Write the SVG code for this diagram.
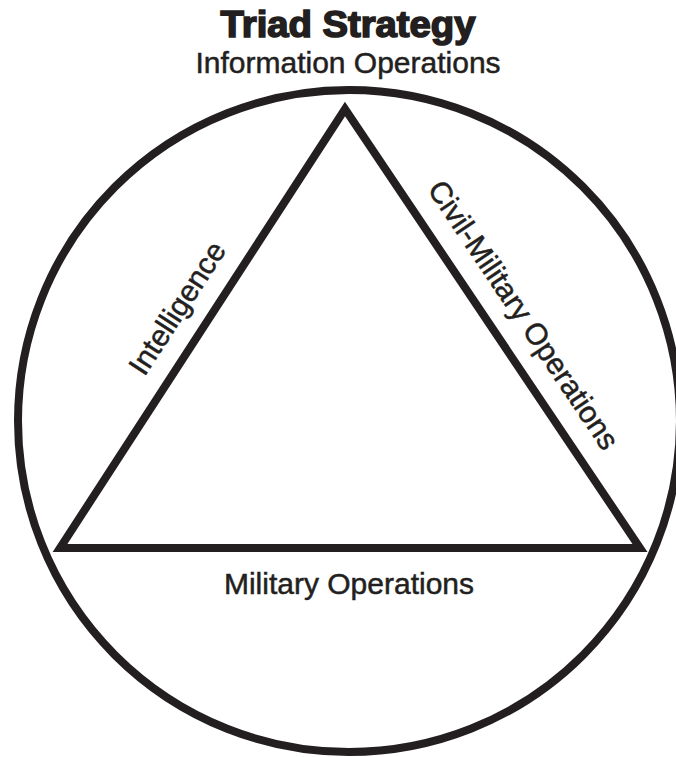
<svg xmlns="http://www.w3.org/2000/svg" width="676" height="757" viewBox="0 0 676 757">
<style>
.ln{fill:none;stroke:#231f20;stroke-width:8;stroke-linejoin:miter;stroke-miterlimit:10}
.t{font-family:"Liberation Sans",Arial,sans-serif;font-size:30px;fill:#231f20;stroke:#231f20;stroke-width:0.5}
.title{font-family:"Liberation Sans",Arial,sans-serif;font-size:36px;font-weight:bold;fill:#231f20;stroke:#231f20;stroke-width:1.6}
</style>
<rect width="676" height="757" fill="#ffffff"/>
<g id="circle"><circle class="ln" cx="349" cy="421" r="331"/></g>
<g id="triangle"><polygon class="ln" points="345,109 640,548 60,548"/></g>
<g id="title"><text class="title" x="348" y="37" text-anchor="middle" textLength="255" lengthAdjust="spacingAndGlyphs">Triad Strategy</text></g>
<g id="info-ops"><text class="t" x="348" y="73" text-anchor="middle">Information Operations</text></g>
<g id="intelligence"><text class="t" text-anchor="middle" transform="translate(185.8,313.7) rotate(-57)">Intelligence</text></g>
<g id="civil-military"><text class="t" text-anchor="middle" transform="translate(515,320.7) rotate(56.1)">Civil-Military Operations</text></g>
<g id="military-ops"><text class="t" x="349" y="594" text-anchor="middle">Military Operations</text></g>
<g id="connectors"></g>
</svg>
